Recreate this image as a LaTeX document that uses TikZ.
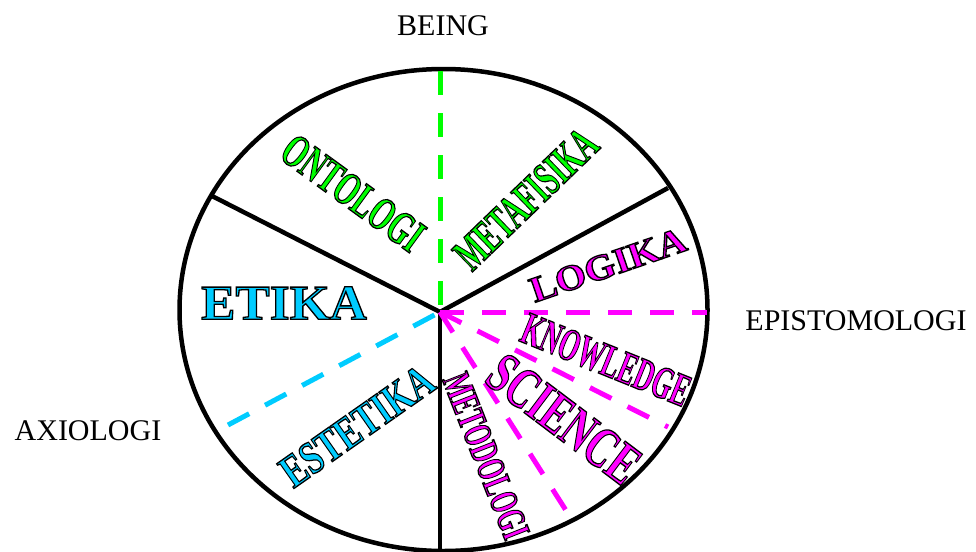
\documentclass[tikz,border=0pt]{standalone}
\usepackage{fontspec}
\setmainfont{Liberation Serif}
\definecolor{WordGreen}{HTML}{00FF00}
\definecolor{WordCyan}{HTML}{00CCFF}
\definecolor{WordMagenta}{HTML}{FF00FF}
% filled letters with a black outline
\newcommand{\wordart}[2]{{\color{#1}\special{pdf:literal 2 Tr 0 G 1.3 w}#2\special{pdf:literal 0 Tr}}}

\begin{document}
\begin{tikzpicture}[x=1pt, y=-1pt]
    \useasboundingbox (0,0) rectangle (976,551);
    \tikzset{
        spoke/.style={line width=4.5pt, black},
        branch/.style={line width=5pt, dash pattern=on 24pt off 18pt},
        word/.style={font=\bfseries\fontsize{#1}{#1}\selectfont, inner sep=0pt},
        axislabel/.style={font=\fontsize{30}{36}\selectfont, inner sep=0pt}
    }
    \coordinate (centre) at (440,312);

    % Wheel and solid spokes
    \draw[spoke] (443.5,310) ellipse (264 and 241);
    \coordinate (upleft) at (212,196);
    \coordinate (upright) at (668,188);
    \coordinate (down) at (440,560);
    \draw[spoke] (upleft) -- (centre) -- (upright);
    \draw[spoke] (centre) -- (down);

    % Dashed branches
    \coordinate (being) at (440,71);
    \coordinate (axio) at (228,425);
    \coordinate (epi1) at (707,312);
    \coordinate (epi2) at (668,427);
    \coordinate (epi3) at (567,512);
    \draw[branch, WordGreen] (being) -- (centre);
    \draw[branch, WordCyan] (axio) -- (centre);
    \draw[branch, WordMagenta] (centre) -- (epi1);
    \draw[branch, WordMagenta] (centre) -- (epi2);
    \draw[branch, WordMagenta] (centre) -- (epi3);

    % Outer labels
    \node[axislabel] (lbeing) at (443,26) {BEING};
    \node[axislabel] (lepi) at (856,321) {EPISTOMOLOGI};
    \node[axislabel] (laxio) at (88,431) {AXIOLOGI};

    % Words in the sectors
    \node[word=47, rotate=-36, xscale=0.63] (ontologi) at (353,193) {\wordart{WordGreen}{ONTOLOGI}};
    \node[word=47, rotate=44, xscale=0.6] (metafisika) at (526,199) {\wordart{WordGreen}{METAFISIKA}};
    \node[word=36, rotate=19, xscale=1.1] (logika) at (608,265) {\wordart{WordMagenta}{LOGIKA}};
    \node[word=49, xscale=1.05] (etika) at (284,303) {\wordart{WordCyan}{ETIKA}};
    \node[word=46, rotate=-22, xscale=0.57] (knowledge) at (606,360) {\wordart{WordMagenta}{KNOWLEDGE}};
    \node[word=58, rotate=-37, xscale=0.68] (science) at (564,419) {\wordart{WordMagenta}{SCIENCE}};
    \node[word=40, rotate=-68.6, xscale=0.61] (metodologi) at (486,456) {\wordart{WordMagenta}{METODOLOGI}};
    \node[word=46, rotate=35, xscale=0.75] (estetika) at (357,426) {\wordart{WordCyan}{ESTETIKA}};
\end{tikzpicture}
\end{document}
